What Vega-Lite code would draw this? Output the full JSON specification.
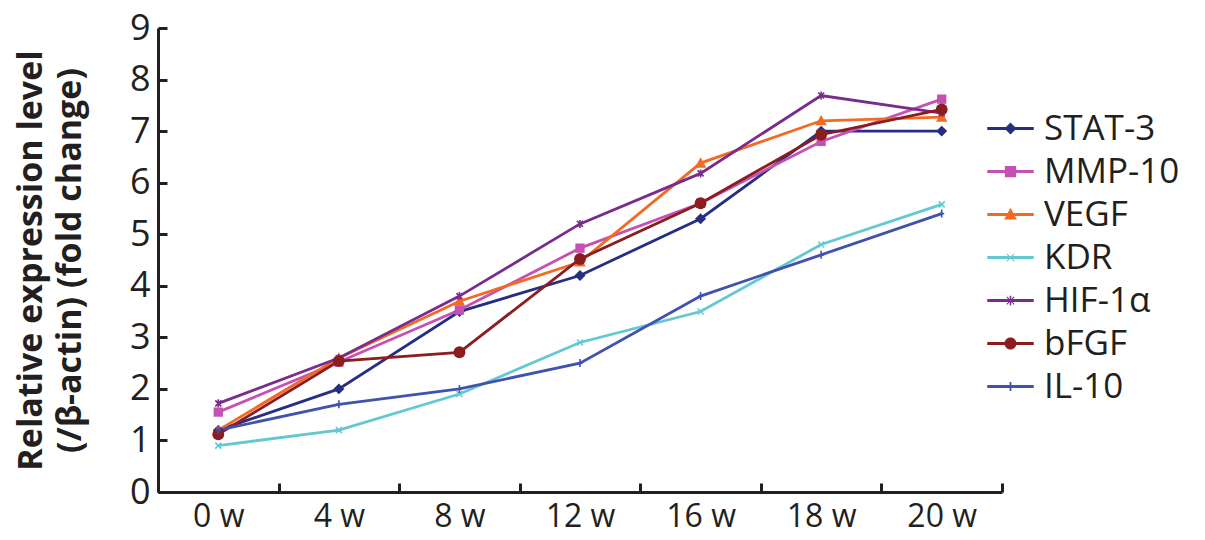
{
  "$schema": "https://vega.github.io/schema/vega-lite/v6.json",
  "width": 844,
  "height": 464,
  "autosize": {"type": "none"},
  "padding": {"left": 158, "top": 28, "right": 203, "bottom": 48},
  "background": "white",
  "config": {"view": {"stroke": null}, "font": "Open Sans"},
  "data": {
    "values": [
      {"week": "0 w", "gene": "STAT-3", "value": 1.2},
      {"week": "4 w", "gene": "STAT-3", "value": 2.0},
      {"week": "8 w", "gene": "STAT-3", "value": 3.5},
      {"week": "12 w", "gene": "STAT-3", "value": 4.2},
      {"week": "16 w", "gene": "STAT-3", "value": 5.3},
      {"week": "18 w", "gene": "STAT-3", "value": 7.0},
      {"week": "20 w", "gene": "STAT-3", "value": 7.0},
      {"week": "0 w", "gene": "MMP-10", "value": 1.55},
      {"week": "4 w", "gene": "MMP-10", "value": 2.52},
      {"week": "8 w", "gene": "MMP-10", "value": 3.53},
      {"week": "12 w", "gene": "MMP-10", "value": 4.73},
      {"week": "16 w", "gene": "MMP-10", "value": 5.6},
      {"week": "18 w", "gene": "MMP-10", "value": 6.8},
      {"week": "20 w", "gene": "MMP-10", "value": 7.62},
      {"week": "0 w", "gene": "VEGF", "value": 1.2},
      {"week": "4 w", "gene": "VEGF", "value": 2.6},
      {"week": "8 w", "gene": "VEGF", "value": 3.7},
      {"week": "12 w", "gene": "VEGF", "value": 4.46},
      {"week": "16 w", "gene": "VEGF", "value": 6.38},
      {"week": "18 w", "gene": "VEGF", "value": 7.2},
      {"week": "20 w", "gene": "VEGF", "value": 7.27},
      {"week": "0 w", "gene": "KDR", "value": 0.9},
      {"week": "4 w", "gene": "KDR", "value": 1.2},
      {"week": "8 w", "gene": "KDR", "value": 1.9},
      {"week": "12 w", "gene": "KDR", "value": 2.9},
      {"week": "16 w", "gene": "KDR", "value": 3.5},
      {"week": "18 w", "gene": "KDR", "value": 4.8},
      {"week": "20 w", "gene": "KDR", "value": 5.58},
      {"week": "0 w", "gene": "HIF-1α", "value": 1.72},
      {"week": "4 w", "gene": "HIF-1α", "value": 2.6},
      {"week": "8 w", "gene": "HIF-1α", "value": 3.8},
      {"week": "12 w", "gene": "HIF-1α", "value": 5.2},
      {"week": "16 w", "gene": "HIF-1α", "value": 6.18},
      {"week": "18 w", "gene": "HIF-1α", "value": 7.69},
      {"week": "20 w", "gene": "HIF-1α", "value": 7.35},
      {"week": "0 w", "gene": "bFGF", "value": 1.12},
      {"week": "4 w", "gene": "bFGF", "value": 2.54},
      {"week": "8 w", "gene": "bFGF", "value": 2.71},
      {"week": "12 w", "gene": "bFGF", "value": 4.52},
      {"week": "16 w", "gene": "bFGF", "value": 5.6},
      {"week": "18 w", "gene": "bFGF", "value": 6.93},
      {"week": "20 w", "gene": "bFGF", "value": 7.42},
      {"week": "0 w", "gene": "IL-10", "value": 1.2},
      {"week": "4 w", "gene": "IL-10", "value": 1.7},
      {"week": "8 w", "gene": "IL-10", "value": 2.0},
      {"week": "12 w", "gene": "IL-10", "value": 2.5},
      {"week": "16 w", "gene": "IL-10", "value": 3.8},
      {"week": "18 w", "gene": "IL-10", "value": 4.6},
      {"week": "20 w", "gene": "IL-10", "value": 5.4}
    ]
  },
  "encoding": {
    "x": {
      "field": "week",
      "type": "ordinal",
      "sort": ["0 w", "4 w", "8 w", "12 w", "16 w", "18 w", "20 w"],
      "scale": {"type": "band", "paddingInner": 0, "paddingOuter": 0},
      "axis": {
        "title": null,
        "labelAngle": 0,
        "labelFontSize": 32,
        "labelColor": "#231F20",
        "labelPadding": 18,
        "tickBand": "extent",
        "tickSize": -9,
        "tickWidth": 3,
        "tickColor": "#231F20",
        "domainColor": "#231F20",
        "domainWidth": 3,
        "grid": false
      }
    },
    "y": {
      "field": "value",
      "type": "quantitative",
      "scale": {"domain": [0, 9], "nice": false, "zero": true},
      "axis": {
        "values": [0, 1, 2, 3, 4, 5, 6, 7, 8, 9],
        "grid": false,
        "title": ["Relative expression level", "(/β-actin) (fold change)"],
        "titleFontSize": 34,
        "titleFontWeight": "bold",
        "titleColor": "#231F20",
        "titleLineHeight": 39,
        "titlePadding": 42,
        "labelFontSize": 36,
        "labelColor": "#231F20",
        "labelPadding": 17,
        "tickSize": -9,
        "tickWidth": 3,
        "tickColor": "#231F20",
        "domainColor": "#231F20",
        "domainWidth": 3
      }
    },
    "color": {
      "field": "gene",
      "type": "nominal",
      "scale": {
        "domain": ["STAT-3", "MMP-10", "VEGF", "KDR", "HIF-1α", "bFGF", "IL-10"],
        "range": ["#262E84", "#C651B4", "#F26A24", "#62C9D3", "#7A2C8D", "#8B1C1F", "#4152AE"]
      },
      "legend": {
        "title": null,
        "orient": "none",
        "legendX": 835,
        "legendY": 83,
        "padding": 0,
        "labelFontSize": 35,
        "labelColor": "#231F20",
        "labelOffset": 16,
        "symbolSize": 225,
        "symbolOpacity": 1,
        "symbolStrokeWidth": 0,
        "rowPadding": 7
      }
    }
  },
  "layer": [
    {"mark": {"type": "line", "strokeWidth": 2.8}},
    {
      "transform": [{"filter": {"field": "gene", "equal": "STAT-3"}}],
      "mark": {"type": "point", "filled": true, "opacity": 1, "size": 120, "strokeWidth": 0, "shape": "M0,-1L1,0L0,1L-1,0Z"}
    },
    {
      "transform": [{"filter": {"field": "gene", "equal": "MMP-10"}}],
      "mark": {"type": "point", "filled": true, "opacity": 1, "size": 120, "strokeWidth": 0, "shape": "M-0.85,-0.85L0.85,-0.85L0.85,0.85L-0.85,0.85Z"}
    },
    {
      "transform": [{"filter": {"field": "gene", "equal": "VEGF"}}],
      "mark": {"type": "point", "filled": true, "opacity": 1, "size": 130, "strokeWidth": 0, "shape": "M0,-1L1,0.8L-1,0.8Z"}
    },
    {
      "transform": [{"filter": {"field": "gene", "equal": "KDR"}}],
      "mark": {"type": "point", "filled": false, "opacity": 1, "size": 100, "strokeWidth": 1.6, "shape": "M-0.6,-0.6L0.6,0.6M-0.6,0.6L0.6,-0.6"}
    },
    {
      "transform": [{"filter": {"field": "gene", "equal": "HIF-1α"}}],
      "mark": {"type": "point", "filled": false, "opacity": 1, "size": 100, "strokeWidth": 1.6, "shape": "M-0.6,-0.6L0.6,0.6M-0.6,0.6L0.6,-0.6M0,-0.8L0,0.8"}
    },
    {
      "transform": [{"filter": {"field": "gene", "equal": "bFGF"}}],
      "mark": {"type": "point", "filled": true, "opacity": 1, "size": 140, "strokeWidth": 0, "shape": "circle"}
    },
    {
      "transform": [{"filter": {"field": "gene", "equal": "IL-10"}}],
      "mark": {"type": "point", "filled": false, "opacity": 1, "size": 100, "strokeWidth": 1.6, "shape": "M0,-0.8L0,0.8M-0.5,0L0.5,0"}
    },
    {
      "mark": {"type": "point", "filled": true, "opacity": 0, "size": 110},
      "encoding": {
        "shape": {
          "field": "gene",
          "type": "nominal",
          "scale": {
            "domain": ["STAT-3", "MMP-10", "VEGF", "KDR", "HIF-1α", "bFGF", "IL-10"],
            "range": [
              "M-3.1,-0.2L3.1,-0.2L3.1,0.2L-3.1,0.2ZM0,-0.8L0.8,0L0,0.8L-0.8,0Z",
              "M-3.1,-0.2L3.1,-0.2L3.1,0.2L-3.1,0.2ZM-0.75,-0.75L0.75,-0.75L0.75,0.75L-0.75,0.75Z",
              "M-3.1,-0.2L3.1,-0.2L3.1,0.2L-3.1,0.2ZM0,-0.9L0.85,0.65L-0.85,0.65Z",
              "M-3.1,-0.2L3.1,-0.2L3.1,0.2L-3.1,0.2ZM-0.45,-0.55L0,-0.1L0.45,-0.55L0.55,-0.45L0.1,0L0.55,0.45L0.45,0.55L0,0.1L-0.45,0.55L-0.55,0.45L-0.1,0L-0.55,-0.45Z",
              "M-3.1,-0.2L3.1,-0.2L3.1,0.2L-3.1,0.2ZM-0.45,-0.55L0,-0.1L0.45,-0.55L0.55,-0.45L0.1,0L0.55,0.45L0.45,0.55L0,0.1L-0.45,0.55L-0.55,0.45L-0.1,0L-0.55,-0.45ZM-0.1,-0.65L0.1,-0.65L0.1,0.65L-0.1,0.65Z",
              "M-3.1,-0.2L3.1,-0.2L3.1,0.2L-3.1,0.2ZM0.8,0A0.8,0.8,0,1,1,-0.8,0A0.8,0.8,0,1,1,0.8,0Z",
              "M-3.1,-0.2L3.1,-0.2L3.1,0.2L-3.1,0.2ZM-0.12,-0.6L0.12,-0.6L0.12,0.6L-0.12,0.6Z"
            ]
          },
          "legend": {
            "title": null,
            "orient": "none",
            "legendX": 835,
            "legendY": 83,
            "padding": 0,
            "labelFontSize": 35,
            "labelColor": "#231F20",
            "labelOffset": 16,
            "symbolSize": 225,
            "symbolOpacity": 1,
            "symbolStrokeWidth": 0,
            "rowPadding": 7
          }
        }
      }
    }
  ]
}
